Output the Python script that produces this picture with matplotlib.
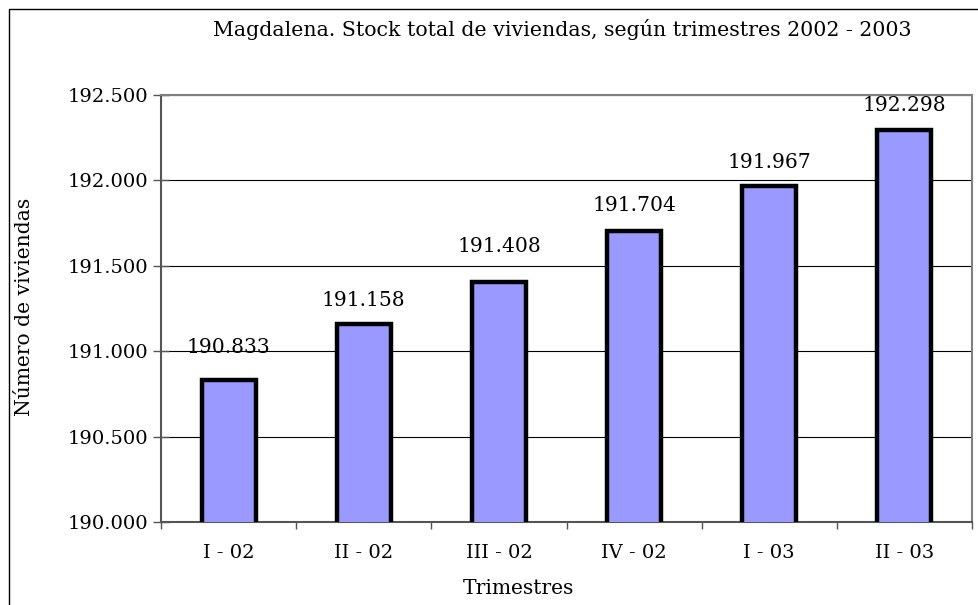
import numpy as np
from matplotlib import pyplot as plt
from matplotlib.patches import Rectangle
from matplotlib.ticker import FuncFormatter

# Data
trimestres = ['I - 02', 'II - 02', 'III - 02', 'IV - 02', 'I - 03', 'II - 03']
viviendas = [190833, 191158, 191408, 191704, 191967, 192298]

# gap (px) from bar top to centre of its value label, as placed in the original
label_gap = [32, 24, 35, 25, 24, 24]

plt.rcParams['font.family'] = 'DejaVu Serif'

W, H = 979, 605
fig = plt.figure(figsize=(W/100, H/100), dpi=100)
ax = fig.add_axes([161/W, 1 - 522/H, (972 - 161)/W, (522 - 95)/H])

# outer frame (Excel chart area), right/bottom run off the picture
fig.patches.append(Rectangle((9/W, -0.1), 1.2, 1 - 9/H + 0.1, transform=fig.transFigure,
                             fill=False, edgecolor='black', linewidth=1.0))

x = np.arange(len(trimestres))
ax.bar(x, viviendas, width=0.4, color='#9999FF', edgecolor='black', linewidth=3.2, zorder=3)

ax.set_xlim(-0.5, len(trimestres) - 0.5)
ax.set_ylim(190000, 192500)
ax.set_yticks(np.arange(190000, 192501, 500))
ax.yaxis.set_major_formatter(FuncFormatter(lambda v, p: f'{v/1000:.3f}'))
ax.grid(axis='y', color='black', linewidth=0.8, zorder=0)

ax.set_xticks(x)
ax.set_xticklabels(trimestres)
ax.set_xticks(np.arange(len(trimestres) + 1) - 0.5, minor=True)
ax.tick_params(axis='x', which='major', length=0, pad=16, labelsize=14)
ax.tick_params(axis='x', which='minor', length=5, width=1, color='#555555')
ax.tick_params(axis='y', direction='inout', length=12, width=1, color='#555555',
               labelsize=14, pad=3)

for s in ax.spines.values():
    s.set_color('#808080')
    s.set_linewidth(1.5)
ax.spines['left'].set_color('#555555')
ax.spines['bottom'].set_color('#555555')

for xi, v, g in zip(x, viviendas, label_gap):
    ax.annotate(f'{v/1000:.3f}', (xi, v), xytext=(0, g * 0.72), textcoords='offset points',
                ha='center', va='center', fontsize=14.6, zorder=4)

fig.text(562/W, 1 - 30/H, 'Magdalena. Stock total de viviendas, según trimestres 2002 - 2003',
         ha='center', va='center', fontsize=14.8)
fig.text(25/W, 1 - 307/H, 'Número de viviendas', rotation=90, ha='center', va='center',
         fontsize=14.6)
fig.text(518/W, 1 - 589/H, 'Trimestres', ha='center', va='center', fontsize=14.6)

fig.savefig('out.png', dpi=100)
